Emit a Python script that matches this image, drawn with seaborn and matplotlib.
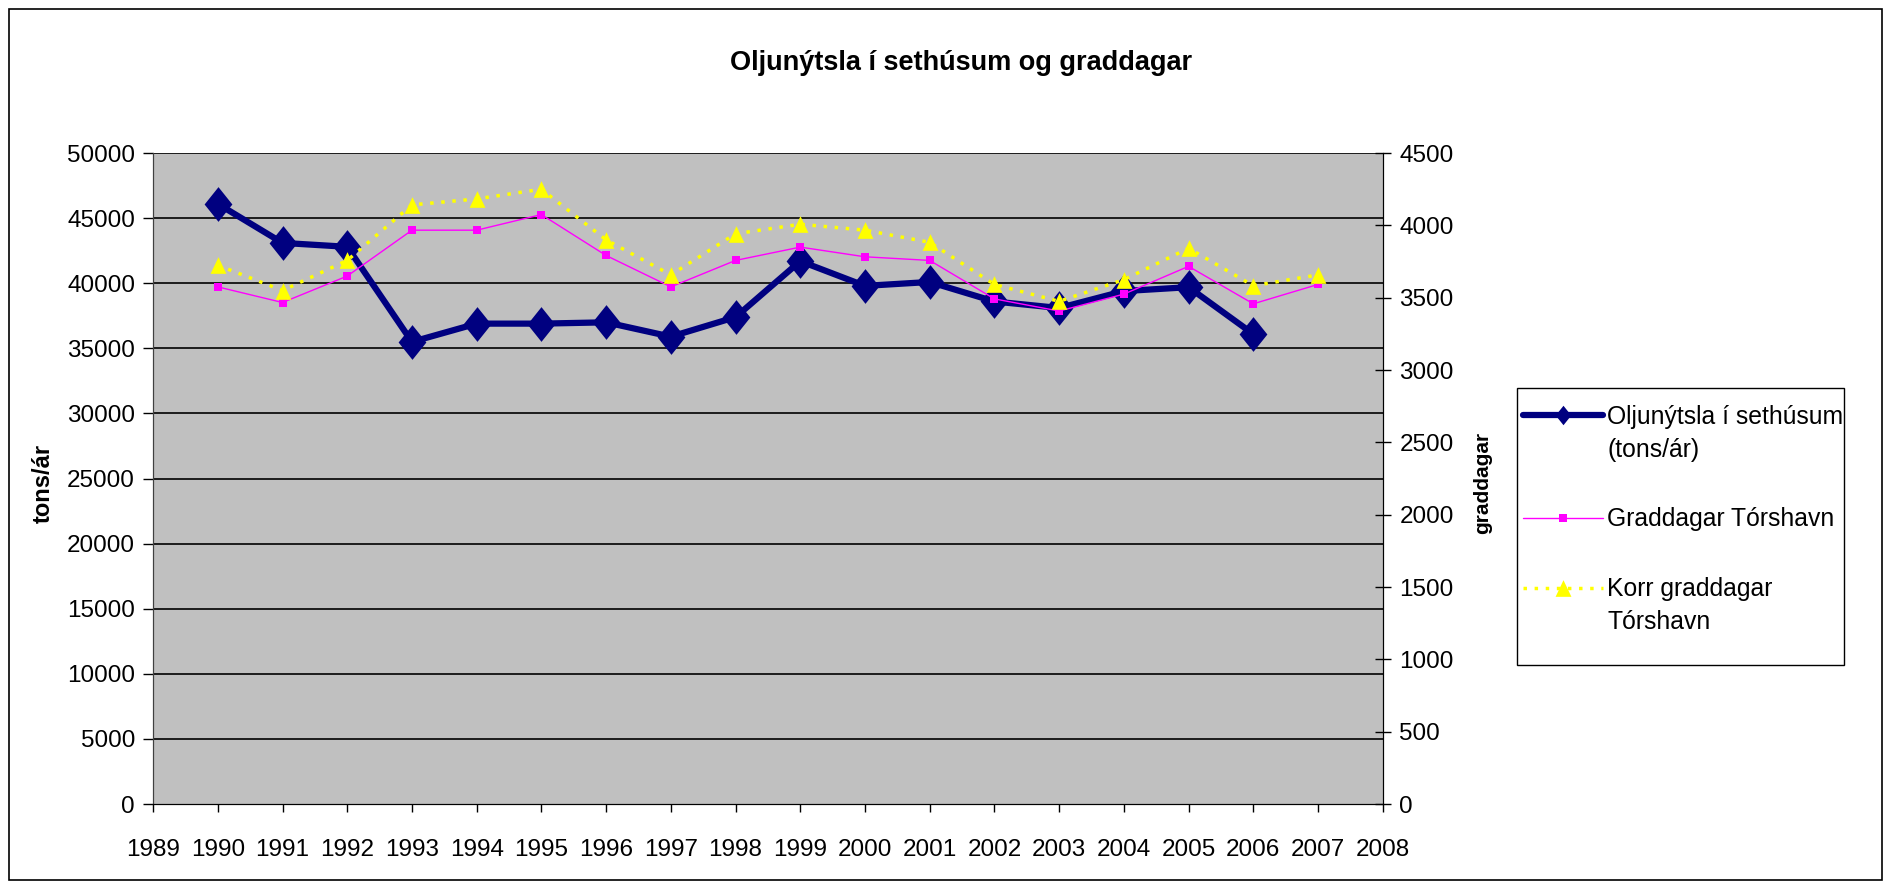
import matplotlib
matplotlib.use("Agg")
import matplotlib.pyplot as plt
from matplotlib.patches import Rectangle
from matplotlib.legend_handler import HandlerLine2D
import seaborn as sns
import pandas as pd

# data
years = [1990, 1991, 1992, 1993, 1994, 1995, 1996, 1997, 1998, 1999,
         2000, 2001, 2002, 2003, 2004, 2005, 2006, 2007]
oil_years = years[:-1]
oil = [46100, 43100, 42800, 35500, 36900, 36900, 37000, 35900, 37400, 41700,
       39800, 40100, 38600, 38100, 39400, 39700, 36100]
graddagar = [3575, 3467, 3650, 3967, 3967, 4075, 3792, 3575, 3758, 3850,
             3783, 3758, 3492, 3408, 3525, 3717, 3458, 3592]
korr = [3725, 3550, 3758, 4142, 4183, 4250, 3900, 3658, 3942, 4008,
        3967, 3883, 3592, 3475, 3625, 3842, 3583, 3658]
xticks = list(range(1989, 2009))
left_ticks = list(range(0, 50001, 5000))
right_ticks = list(range(0, 4501, 500))


class FirstLineHandler(HandlerLine2D):
    """Legend handle lifted to the first line of a two-line label (Excel style)"""
    def __init__(self, dy=0, **kw):
        super().__init__(**kw)
        self.dy = dy

    def create_artists(self, legend, orig_handle, xdescent, ydescent, width,
                       height, fontsize, trans):
        return super().create_artists(legend, orig_handle, xdescent,
                                      ydescent - 2 * self.dy, width, height,
                                      fontsize, trans)


sns.set_style("white")
plt.rcParams['font.family'] = ['Liberation Sans', 'DejaVu Sans']
plt.rcParams['text.color'] = 'black'
plt.rcParams['axes.labelcolor'] = 'black'
plt.rcParams['xtick.color'] = 'black'
plt.rcParams['ytick.color'] = 'black'

fig = plt.figure(figsize=(18.9, 8.9), dpi=100)
ax = fig.add_axes([0.081, 0.0966, 0.6506, 0.7314])
ax2 = ax.twinx()

df_oil = pd.DataFrame({'year': oil_years, 'val': oil})
df_g = pd.DataFrame({'year': years, 'g': graddagar, 'k': korr})

ax.set_facecolor('#C0C0C0')
ax2.patch.set_visible(False)

for y in left_ticks[1:]:
    ax.axhline(y, color='black', lw=1.2, zorder=0.5)

# tall diamonds like the Excel markers
diamond = [(0, 1), (0.8, 0), (0, -1), (-0.8, 0), (0, 1)]
triangle = [(0, 1), (0.95, -1), (-0.95, -1), (0, 1)]

sns.lineplot(data=df_oil, x='year', y='val', ax=ax, color='#000080', lw=4.5,
             marker=diamond, markersize=25, markeredgewidth=0,
             label='Oljunýtsla í sethúsum\n(tons/ár)', legend=False)
sns.lineplot(data=df_g, x='year', y='g', ax=ax2, color='#FF00FF', lw=1,
             marker='s', markersize=6, markeredgewidth=0,
             label='Graddagar Tórshavn', legend=False)
sns.lineplot(data=df_g, x='year', y='k', ax=ax2, color='#FFFF00', lw=2.5,
             linestyle=(0, (1, 2.2)), marker=triangle, markersize=12,
             markeredgewidth=0, label='Korr graddagar\nTórshavn', legend=False)

ax.set_xlim(1989, 2008)
ax.set_ylim(0, 50000)
ax2.set_ylim(0, 4500)
ax.set_xticks(xticks)
ax.set_xticklabels([str(x) for x in xticks])
ax.set_yticks(left_ticks)
ax2.set_yticks(right_ticks)
ax.set_xlabel('')
ax.set_ylabel('tons/ár', fontsize=17, fontweight='bold')
ax.yaxis.set_label_coords(-0.0797, 0.493)
ax2.set_ylabel('graddagar', fontsize=15, fontweight='bold')
ax2.yaxis.set_label_coords(1.0732, 0.493)

ax.tick_params(axis='y', direction='out', length=7, width=1, labelsize=17.5, pad=6, left=True)
ax.tick_params(axis='x', direction='out', length=6, width=1, labelsize=17.5, pad=19,
               bottom=True)
ax2.tick_params(axis='y', direction='inout', length=12, width=1, labelsize=17.5, pad=6, right=True)

for a in (ax, ax2):
    a.spines['top'].set_visible(False)
    a.spines['left'].set_color('#404040')
    a.spines['right'].set_color('black')
    a.spines['bottom'].set_color('black')

ax.set_title('Oljunýtsla í sethúsum og graddagar', fontsize=19.5, fontweight='bold',
             pad=60)
ax.title.set_position((0.657, 1.0))

# legend: frame drawn separately so its size matches the Excel box
h1, l1 = ax.get_legend_handles_labels()
h2, l2 = ax2.get_legend_handles_labels()
handles = h1 + h2
labels = l1 + l2
leg = fig.legend(handles, labels, loc='upper left', bbox_to_anchor=(0.8058, 0.545),
                 frameon=False, fontsize=17.8, handlelength=3.24,
                 labelspacing=1.86, borderpad=0, handletextpad=0.16,
                 borderaxespad=0,
                 handler_map={handles[0]: FirstLineHandler(dy=13.5),
                              handles[2]: FirstLineHandler(dy=13.5)})
for t in leg.get_texts():
    t.set_linespacing(1.45)
leg.legend_handles[0].set_markersize(14)
fig.add_artist(Rectangle((0.8026, 0.2528), 0.1730, 0.3112, transform=fig.transFigure,
                         fill=False, edgecolor='black', lw=1))

fig.add_artist(Rectangle((0.005, 0.011), 0.991, 0.979, transform=fig.transFigure,
                         fill=False, edgecolor='black', lw=1.2))

fig.savefig('out.png', dpi=100)
